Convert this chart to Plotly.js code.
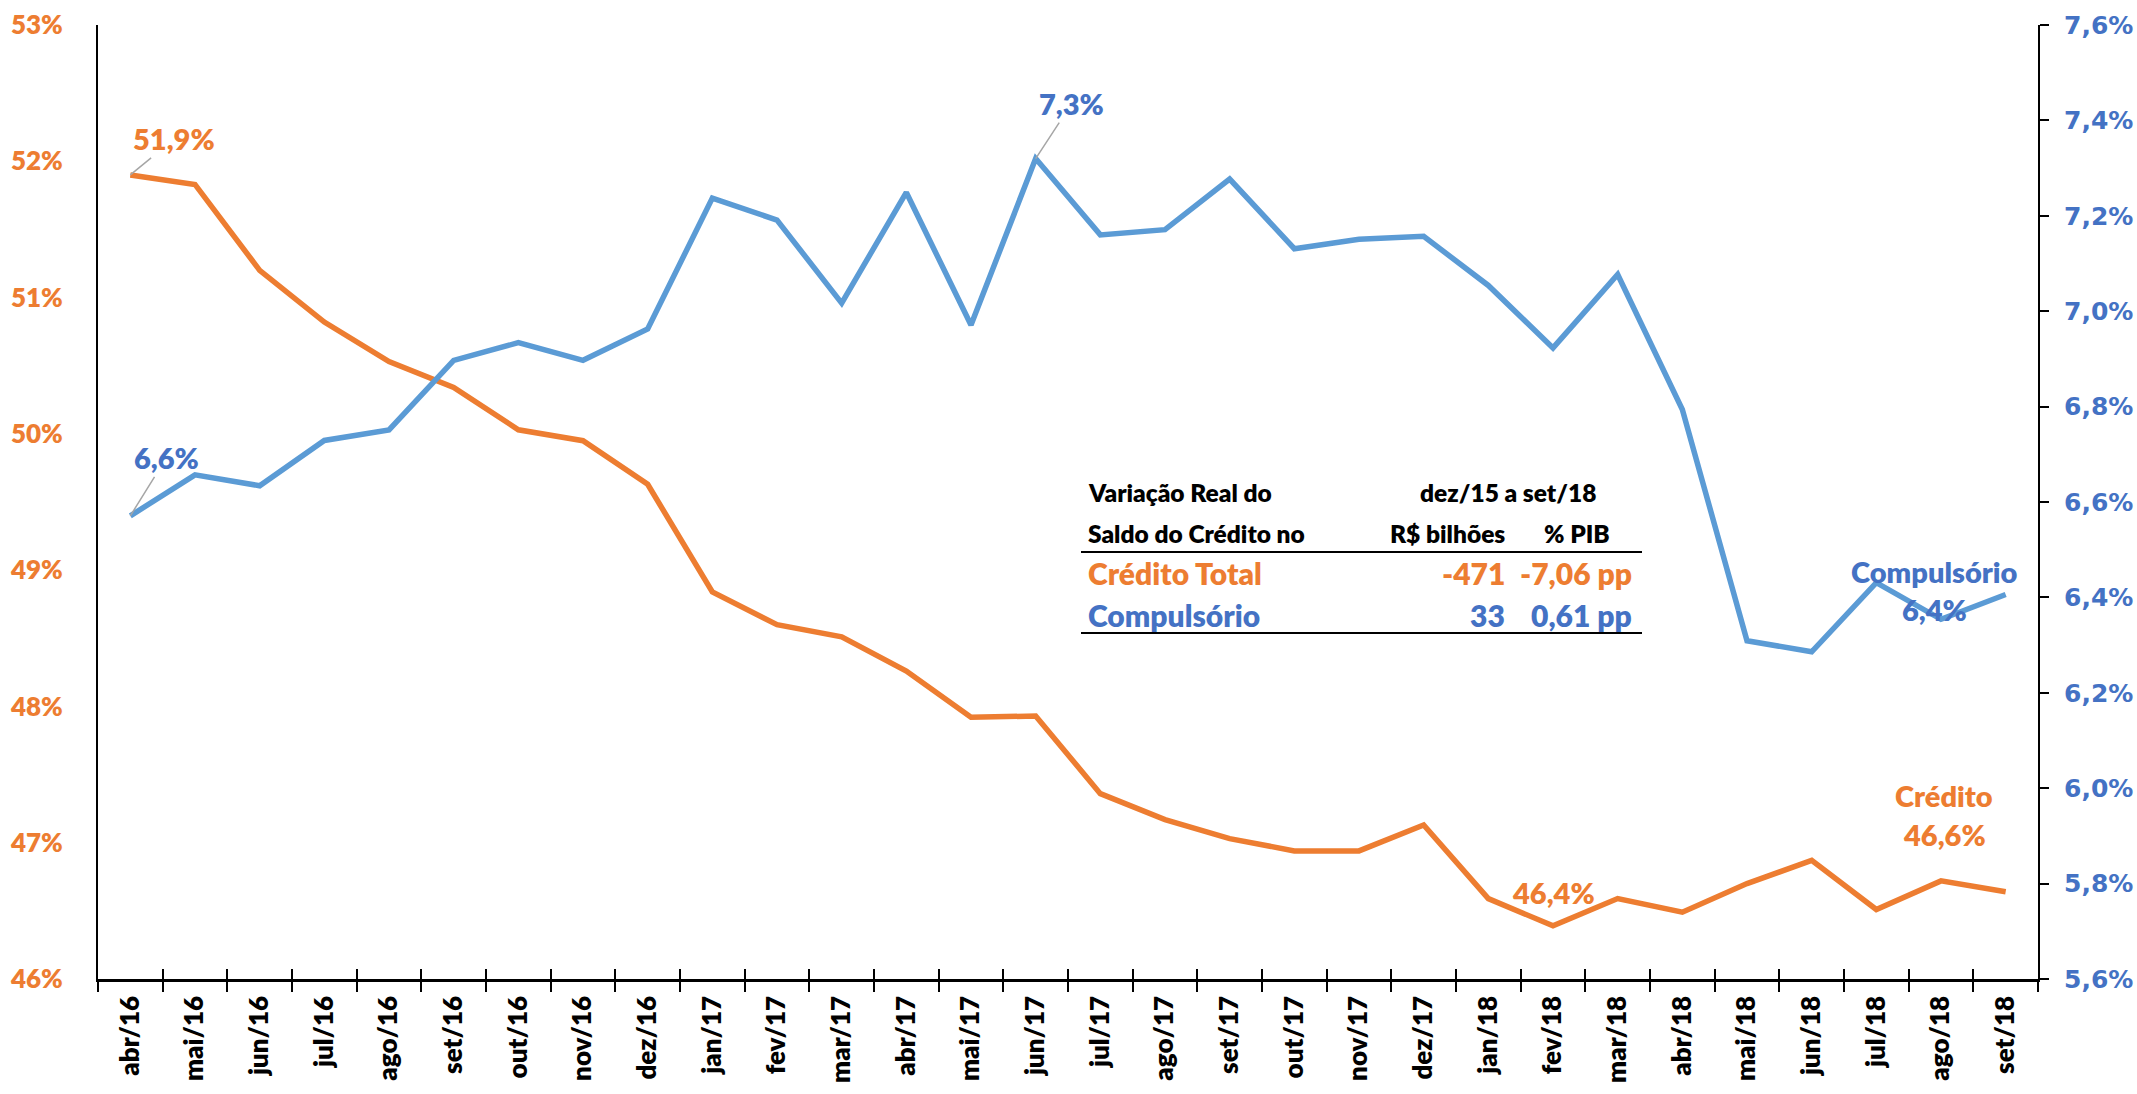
<!DOCTYPE html>
<html>
<head>
<meta charset="utf-8">
<script src="https://cdn.plot.ly/plotly-3.0.1.min.js"></script>
<style>html,body{margin:0;padding:0;background:#fff;}#chart{width:2137px;height:1094px;}</style>
</head>
<body>
<div id="chart"></div>
<script>
// ---- data ----
const months = ["abr/16","mai/16","jun/16","jul/16","ago/16","set/16","out/16","nov/16","dez/16",
  "jan/17","fev/17","mar/17","abr/17","mai/17","jun/17","jul/17","ago/17","set/17","out/17","nov/17","dez/17",
  "jan/18","fev/18","mar/18","abr/18","mai/18","jun/18","jul/18","ago/18","set/18"];
const credito = [51.90,51.83,51.20,50.82,50.53,50.34,50.03,49.95,49.63,
  48.84,48.60,48.51,48.26,47.92,47.93,47.36,47.17,47.03,46.94,46.94,47.13,
  46.59,46.39,46.59,46.49,46.70,46.87,46.51,46.72,46.64];
const compulsorio = [6.571,6.657,6.634,6.729,6.751,6.897,6.934,6.897,6.963,
  7.237,7.191,7.017,7.249,6.971,7.320,7.160,7.171,7.277,7.131,7.151,7.157,
  7.054,6.923,7.077,6.794,6.309,6.286,6.431,6.354,6.406];
const tableTitle = ["Variação Real do","Saldo do Crédito no"];
const tablePeriod = "dez/15 a set/18";
const tableCols = ["R$ bilhões","% PIB"];
const tableRows = ["Crédito Total","Compulsório"];
const tableBRL = ["-471","33"];
const tablePIB = ["-7,06 pp","0,61 pp"];

const ORANGE = "#ED7D31", BLUE_LINE = "#5B9BD5", BLUE_TXT = "#4472C4", GRAY = "#A6A6A6";

// pixel -> paper helpers (plot area: x 98..2038, y 25..979)
const PX = px => (px - 98) / 1940;
const PY = py => (979 - py) / 954;

const traces = [
  {x: months, y: credito, type: "scatter", mode: "lines", xaxis: "x", yaxis: "y",
   line: {color: ORANGE, width: 5.5}, hoverinfo: "skip"},
  {x: months, y: compulsorio, type: "scatter", mode: "lines", xaxis: "x2", yaxis: "y2",
   line: {color: BLUE_LINE, width: 5.5}, hoverinfo: "skip"}
];

const bold = (size, color, fam, w) => ({family: fam || "Lato", size: size, color: color, weight: w || 800});

const ann = [];
// data labels with leader lines
ann.push({x: months[0], y: credito[0], xref: "x", yref: "y", text: "51,9%", showarrow: true,
  arrowhead: 0, arrowwidth: 1.5, arrowcolor: GRAY, ax: 44, ay: -36, font: bold(29, ORANGE)});
ann.push({x: months[0], y: compulsorio[0], xref: "x2", yref: "y2", text: "6,6%", showarrow: true,
  arrowhead: 0, arrowwidth: 1.5, arrowcolor: GRAY, ax: 36, ay: -58, font: bold(29, BLUE_TXT)});
ann.push({x: months[14], y: compulsorio[14], xref: "x2", yref: "y2", text: "7,3%", showarrow: true,
  arrowhead: 0, arrowwidth: 1.5, arrowcolor: GRAY, ax: 36, ay: -55, font: bold(29, BLUE_TXT)});
// plain labels
const lbl = (px, py, t, c) => ({x: PX(px), y: PY(py), xref: "paper", yref: "paper", xanchor: "center", yanchor: "middle",
  text: t, showarrow: false, font: bold(29, c)});
ann.push(lbl(1553, 892, "46,4%", ORANGE));
ann.push(lbl(1944, 795, "Crédito", ORANGE));
ann.push(lbl(1944, 834, "46,6%", ORANGE));
ann.push(lbl(1934, 571, "Compulsório", BLUE_TXT));
ann.push(lbl(1934, 609, "6,4%", BLUE_TXT));
// table
const cell = (px, py, t, anchor, size, c) => ({x: PX(px), y: PY(py), xref: "paper", yref: "paper", xanchor: anchor, yanchor: "middle",
  text: t, showarrow: false, font: bold(size, c)});
ann.push(cell(1086, 492, tableTitle[0], "left", 24.5, "#000"));
ann.push(cell(1086, 533, tableTitle[1], "left", 24.5, "#000"));
ann.push(cell(1508, 492, tablePeriod, "center", 24.5, "#000"));
ann.push(cell(1507, 533, tableCols[0], "right", 24.5, "#000"));
ann.push(cell(1612, 533, tableCols[1], "right", 24.5, "#000"));
const rowY = [573, 615], rowC = [ORANGE, BLUE_TXT];
for (let i = 0; i < tableRows.length; i++) {
  ann.push(cell(1086, rowY[i], tableRows[i], "left", 30, rowC[i]));
  ann.push(cell(1507, rowY[i], tableBRL[i], "right", 30, rowC[i]));
  ann.push(cell(1634, rowY[i], tablePIB[i], "right", 30, rowC[i]));
}

const shapes = [
  {type: "line", xref: "paper", yref: "paper", x0: PX(1081), x1: PX(1642), y0: PY(552), y1: PY(552), line: {color: "#000", width: 2}},
  {type: "line", xref: "paper", yref: "paper", x0: PX(1081), x1: PX(1642), y0: PY(633), y1: PY(633), line: {color: "#000", width: 2}}
];

const layout = {
  width: 2137, height: 1094,
  margin: {l: 98, r: 99, t: 25, b: 115, pad: 0},
  paper_bgcolor: "#fff", plot_bgcolor: "#fff",
  showlegend: false,
  separators: ",.",
  xaxis: {type: "category", categoryorder: "array", categoryarray: months, range: [-0.5, 29.5],
    tickson: "boundaries", ticks: "outside", ticklen: 10, tickwidth: 2, tickcolor: "#000",
    showline: true, linecolor: "#000", linewidth: 2.5, showgrid: false, zeroline: false,
    tickangle: -90, tickfont: bold(26, "#000"), ticklabelstandoff: 4},
  xaxis2: {type: "category", categoryorder: "array", categoryarray: months, range: [-0.5, 29.5],
    overlaying: "x", side: "bottom", tickson: "boundaries", ticks: "inside", ticklen: 10, tickwidth: 2, tickcolor: "#000",
    showticklabels: false, showline: false, showgrid: false, zeroline: false},
  yaxis: {range: [46, 53], dtick: 1, tick0: 46, tickformat: "d", ticksuffix: "%",
    showline: true, linecolor: "#000", linewidth: 2, ticks: "", showgrid: false, zeroline: false,
    tickfont: bold(26, ORANGE), ticklabelstandoff: 28},
  yaxis2: {range: [5.6, 7.6], dtick: 0.2, tick0: 5.6, tickformat: ".1f", ticksuffix: "%",
    overlaying: "y", side: "right", anchor: "x2",
    showline: true, linecolor: "#000", linewidth: 2, ticks: "outside", ticklen: 9, tickwidth: 2, tickcolor: "#000",
    showgrid: false, zeroline: false, tickfont: bold(25, BLUE_TXT, "DejaVu Sans", 700), ticklabelstandoff: 10},
  annotations: ann,
  shapes: shapes
};

Plotly.newPlot("chart", traces, layout, {displayModeBar: false, staticPlot: true});
</script>
</body>
</html>
